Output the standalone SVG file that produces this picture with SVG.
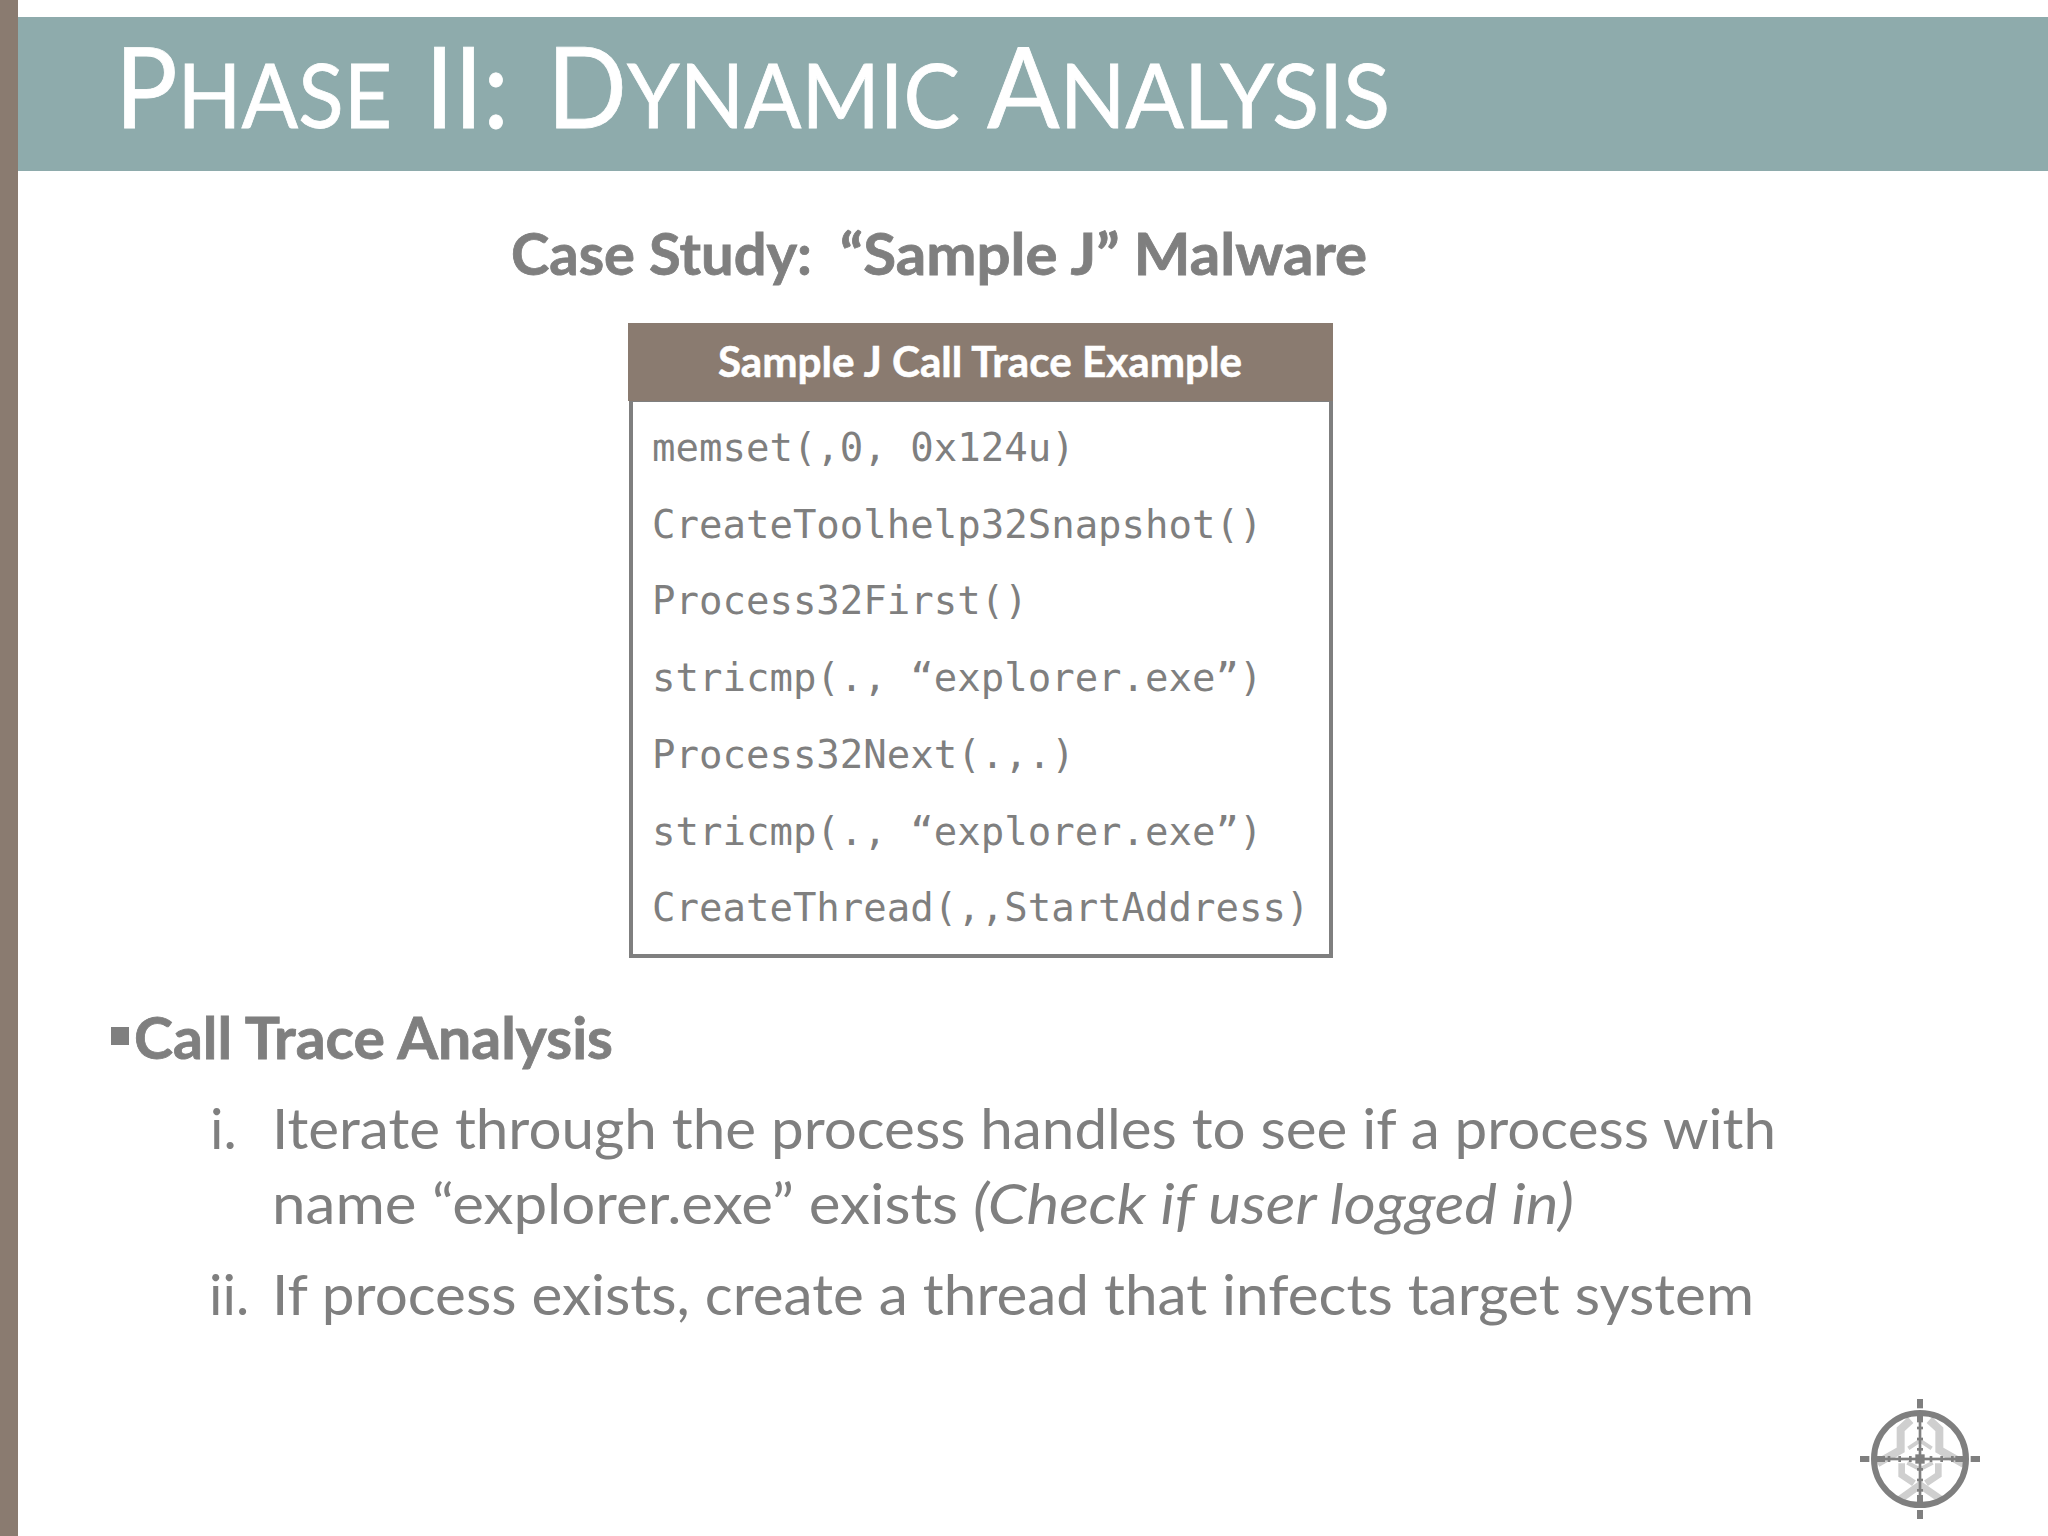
<svg xmlns="http://www.w3.org/2000/svg" width="2048" height="1536" viewBox="0 0 2048 1536">
<style>
.t{font-family:"Lato","Liberation Sans",sans-serif;fill:#fff;font-size:112px;stroke:#fff;stroke-width:.8px}
.t tspan{font-size:90px}
.b{font-family:"Lato","Liberation Sans",sans-serif;fill:#7f7f7f;font-size:56px}
.bb{font-weight:700;font-size:58px;stroke:#7f7f7f;stroke-width:.8px}
.m{font-family:"DejaVu Sans Mono","Liberation Mono",monospace;fill:#7f7f7f;font-size:39px}
.bio{fill:none;stroke:#cfcfcf;stroke-linejoin:miter}
</style>
<rect width="2048" height="1536" fill="#fff"/>
<rect id="side-bar" x="0" y="0" width="18" height="1536" fill="#8a7b70"/>
<g id="title-band">
<rect x="18" y="17" width="2030" height="154" fill="#8eabac"/>
<text class="t" x="115" y="128" textLength="277" lengthAdjust="spacingAndGlyphs">P<tspan>HASE</tspan></text>
<text class="t" x="425" y="128" textLength="84" lengthAdjust="spacingAndGlyphs">II:</text>
<text class="t" x="547" y="128" textLength="413" lengthAdjust="spacingAndGlyphs">D<tspan>YNAMIC</tspan></text>
<text class="t" x="987" y="128" textLength="403" lengthAdjust="spacingAndGlyphs">A<tspan>NALYSIS</tspan></text>
</g>
<g id="case-study">
<text class="b bb" x="511" y="275" textLength="301" lengthAdjust="spacingAndGlyphs">Case Study:</text>
<text class="b bb" x="840" y="275" textLength="527" lengthAdjust="spacingAndGlyphs">“Sample J” Malware</text>
</g>
<g id="call-trace-table">
<rect x="631" y="400" width="700" height="556" fill="#fff" stroke="#7f7f7f" stroke-width="4"/>
<rect x="628" y="323" width="705" height="78" fill="#8a7b70"/>
<text x="718" y="377" font-family="Lato, 'Liberation Sans', sans-serif" font-weight="700" font-size="42" fill="#fff" stroke="#fff" stroke-width=".5" textLength="524" lengthAdjust="spacingAndGlyphs">Sample J Call Trace Example</text>
<text class="m" x="652" y="461">memset(,0, 0x124u)</text>
<text class="m" x="652" y="538">CreateToolhelp32Snapshot()</text>
<text class="m" x="652" y="614">Process32First()</text>
<text class="m" x="652" y="691">stricmp(., “explorer.exe”)</text>
<text class="m" x="652" y="768">Process32Next(.,.)</text>
<text class="m" x="652" y="845">stricmp(., “explorer.exe”)</text>
<text class="m" x="652" y="921">CreateThread(,,StartAddress)</text>
</g>
<g id="analysis">
<rect x="111" y="1027" width="18" height="18" fill="#7f7f7f"/>
<text class="b bb" x="134" y="1059" textLength="479" lengthAdjust="spacingAndGlyphs">Call Trace Analysis</text>
<text class="b" x="210" y="1149">i.</text>
<text class="b" x="272" y="1149" textLength="1504" lengthAdjust="spacingAndGlyphs">Iterate through the process handles to see if a process with</text>
<text class="b" x="272" y="1224" textLength="686" lengthAdjust="spacingAndGlyphs">name “explorer.exe” exists</text>
<text class="b" x="973" y="1224" font-style="italic" textLength="601" lengthAdjust="spacingAndGlyphs">(Check if user logged in)</text>
<text class="b" x="209" y="1315">ii.</text>
<text class="b" x="272" y="1315" textLength="1482" lengthAdjust="spacingAndGlyphs">If process exists, create a thread that infects target system</text>
</g>
<g id="logo" transform="translate(1820 1370) scale(.33333)">
<g class="bio">
<path stroke-width="24" d="M272 150L242 178V240L172 280"/>
<path stroke-width="24" d="M328 150L358 178V240L432 282"/>
<path stroke-width="12" d="M265 235L300 212L335 235"/>
<path stroke-width="20" d="M245 280V315L282 340"/>
<path stroke-width="20" d="M355 280V315L318 340"/>
<path stroke-width="22" d="M240 388L300 345L362 388"/>
<path stroke-width="12" d="M262 278L300 298L338 278"/>
</g>
<circle cx="300" cy="267" r="138" fill="none" stroke="#7f7f7f" stroke-width="18"/>
<g fill="#7f7f7f">
<rect x="291" y="87" width="18" height="28"/>
<rect x="291" y="420" width="18" height="27"/>
<rect x="120" y="258" width="28" height="18"/>
<rect x="452" y="258" width="28" height="18"/>
<rect x="291" y="125" width="18" height="32"/>
<rect x="291" y="375" width="18" height="32"/>
<rect x="165" y="258" width="30" height="18"/>
<rect x="406" y="258" width="30" height="18"/>
<rect x="296" y="150" width="8" height="230"/>
<rect x="185" y="263" width="230" height="8"/>
<rect x="286" y="253" width="28" height="28"/>
<rect x="291" y="170" width="18" height="8"/><rect x="291" y="203" width="18" height="8"/><rect x="291" y="234" width="18" height="8"/>
<rect x="291" y="294" width="18" height="8"/><rect x="291" y="326" width="18" height="8"/><rect x="291" y="357" width="18" height="8"/>
<rect x="203" y="258" width="8" height="18"/><rect x="235" y="258" width="8" height="18"/><rect x="267" y="258" width="8" height="18"/>
<rect x="329" y="258" width="8" height="18"/><rect x="361" y="258" width="8" height="18"/><rect x="393" y="258" width="8" height="18"/>
</g>
</g>
</svg>
